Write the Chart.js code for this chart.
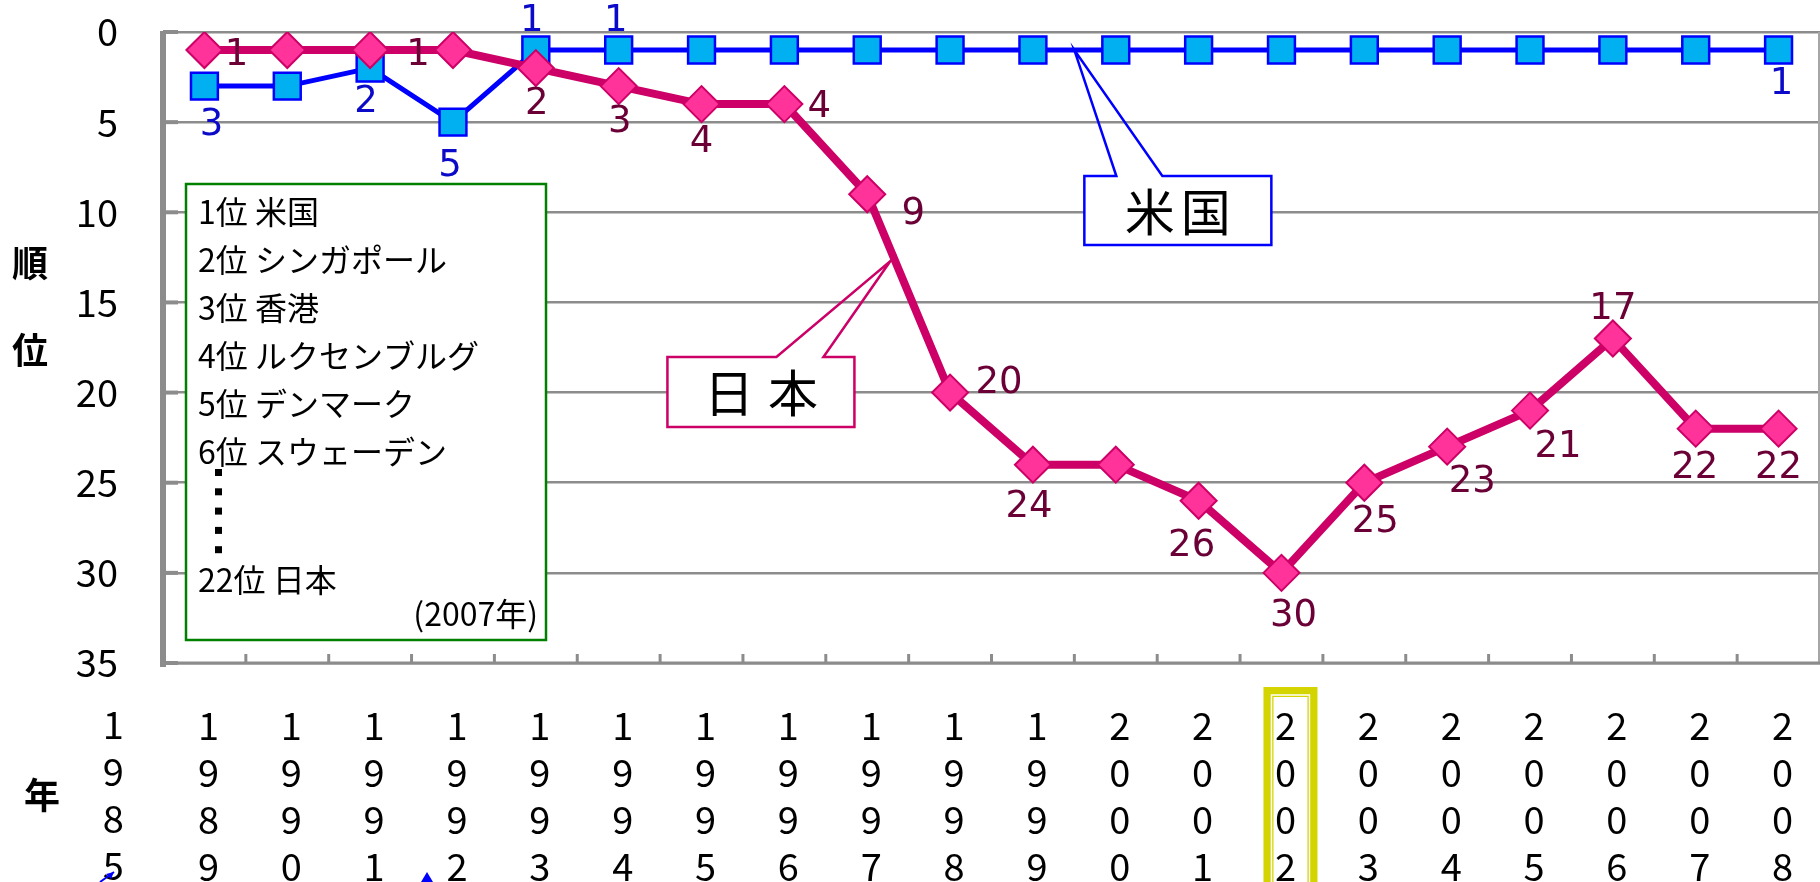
<!DOCTYPE html>
<html><head><meta charset="utf-8">
<script src="https://cdn.jsdelivr.net/npm/chart.js@4.4.0/dist/chart.umd.min.js"></script>
<style>html,body{margin:0;padding:0;background:#fff;overflow:hidden}</style>
</head><body>
<canvas id="c" width="1820" height="882"></canvas>
<script>
// ---- data ----
const years = ['1989','1990','1991','1992','1993','1994','1995','1996','1997','1998','1999','2000','2001','2002','2003','2004','2005','2006','2007','2008'];
const extraYear = '1985';
const japanRank = [1,1,1,1,2,3,4,4,9,20,24,24,26,30,25,23,21,17,22,22];
const usRank    = [3,3,2,5,1,1,1,1,1,1,1,1,1,1,1,1,1,1,1,1];
const legendLines = ['1位 米国','2位 シンガポール','3位 香港','4位 ルクセンブルグ','5位 デンマーク','6位 スウェーデン'];
const legendLast = '22位 日本';
const legendNote = '(2007年)';
const yTitleChars = ['順','位'];
const xTitle = '年';
const highlightYear = '2002';
const calloutUS = '米国';
const calloutJP = '日本';

// ---- styles (label offsets per point, null = no label) ----
const jpLabelOffsets = [[32,5],null,[48,5],null,[1,36],[1,36],[0,38],[35,3],[46,20],[49,-9],[-4,43],null,[-7,46],[12,44],[11,40],[25,36],[28,37],[0,-29],[-1,40],[0,40]];
const usLabelOffsets = [[7,39],null,[-4,34],[-3,44],[-4,-29],[-3,-29],null,null,null,null,null,null,null,null,null,null,null,null,null,[3,34]];

const CJK = '"Noto Sans CJK JP", "Noto Sans", sans-serif';
const GRID = '#8C8C8C';
const LABEL_SHIFT = 4;

const decor = {
  id: 'decor',
  beforeDatasetsDraw(chart) {
    const ctx = chart.ctx, a = chart.chartArea, xs = chart.scales.x, ys = chart.scales.y;
    ctx.save();
    // right border
    ctx.strokeStyle = '#A6A6A6'; ctx.lineWidth = 2;
    ctx.beginPath(); ctx.moveTo(a.right - 1, a.top); ctx.lineTo(a.right - 1, a.bottom); ctx.stroke();
    // bottom axis
    ctx.strokeStyle = GRID; ctx.lineWidth = 3;
    ctx.beginPath(); ctx.moveTo(a.left - 3, a.bottom); ctx.lineTo(a.right, a.bottom); ctx.stroke();
    const cw = xs.getPixelForValue(1) - xs.getPixelForValue(0);
    ctx.lineWidth = 3;
    for (let i = 0; i < years.length - 1; i++) {
      const x = xs.getPixelForValue(i) + cw / 2;
      ctx.beginPath(); ctx.moveTo(x, a.bottom); ctx.lineTo(x, a.bottom - 9); ctx.stroke();
    }
    // left axis
    ctx.lineWidth = 6;
    ctx.beginPath(); ctx.moveTo(a.left, a.top - 1); ctx.lineTo(a.left, a.bottom + 4); ctx.stroke();
    ctx.lineWidth = 4;
    ys.ticks.forEach(t => {
      const y = ys.getPixelForValue(t.value);
      ctx.beginPath(); ctx.moveTo(a.left, y); ctx.lineTo(a.left + 15, y); ctx.stroke();
    });

    // legend box
    const bx = a.left + 23, by = a.top + 152, bw = 360, bh = 456;
    ctx.fillStyle = '#fff'; ctx.fillRect(bx, by, bw, bh);
    ctx.strokeStyle = '#008000'; ctx.lineWidth = 2.5; ctx.strokeRect(bx, by, bw, bh);
    ctx.fillStyle = '#000'; ctx.font = '32px ' + CJK; ctx.textAlign = 'left'; ctx.textBaseline = 'middle';
    legendLines.forEach((s, i) => ctx.fillText(s, bx + 12, by + 28 + i * 48));
    for (let k = 0; k < 5; k++) ctx.fillRect(bx + 29, by + 285 + k * 19.3, 7, 7);
    ctx.fillText(legendLast, bx + 12, by + 396);
    ctx.textAlign = 'right';
    ctx.fillText(legendNote, bx + bw - 8, by + 430);

    // callouts
    function callout(box, base1, base2, tip, color, text, pitch) {
      ctx.fillStyle = '#fff'; ctx.fillRect(box.x, box.y, box.w, box.h);
      ctx.strokeStyle = color; ctx.lineWidth = 2.5;
      ctx.beginPath();
      ctx.moveTo(box.x, box.y);
      ctx.lineTo(base1, box.y); ctx.lineTo(tip.x, tip.y); ctx.lineTo(base2, box.y);
      ctx.lineTo(box.x + box.w, box.y); ctx.lineTo(box.x + box.w, box.y + box.h);
      ctx.lineTo(box.x, box.y + box.h); ctx.closePath(); ctx.stroke();
      ctx.fillStyle = '#000'; ctx.font = '50px ' + CJK; ctx.textAlign = 'center'; ctx.textBaseline = 'middle';
      const cx = box.x + box.w / 2, cy = box.y + box.h / 2;
      const chars = text.split('');
      chars.forEach((c, i) => ctx.fillText(c, cx + (i - (chars.length - 1) / 2) * pitch, cy + 1));
    }
    const tipUS = { x: xs.getPixelForValue(10.5), y: ys.getPixelForValue(1) };
    callout({ x: tipUS.x + 10, y: tipUS.y + 126, w: 187, h: 69 }, tipUS.x + 42, tipUS.x + 88, tipUS, '#0000FF', calloutUS, 56);
    const tipJP = { x: xs.getPixelForValue(8.28), y: ys.getPixelForValue(12.7) };
    callout({ x: tipJP.x - 223, y: tipJP.y + 96, w: 187, h: 70 }, tipJP.x - 114, tipJP.x - 67, tipJP, '#CC0066', calloutJP, 64);
    ctx.restore();
  },
  afterDatasetsDraw(chart) {
    const ctx = chart.ctx;
    ctx.save();
    ctx.font = '37px "DejaVu Sans", sans-serif'; ctx.textAlign = 'center'; ctx.textBaseline = 'middle';
    const draw = (dsIndex, values, offsets, color) => {
      const meta = chart.getDatasetMeta(dsIndex);
      ctx.fillStyle = color;
      meta.data.forEach((pt, i) => {
        const o = offsets[i];
        if (!o) return;
        ctx.fillText(String(values[i]), pt.x + o[0], pt.y + o[1]);
      });
    };
    draw(1, usRank, usLabelOffsets, '#0A0AC8');
    draw(0, japanRank, jpLabelOffsets, '#6B0037');
    ctx.restore();
  },
  afterDraw(chart) {
    const ctx = chart.ctx, a = chart.chartArea, xs = chart.scales.x;
    ctx.save();
    const cw = xs.getPixelForValue(1) - xs.getPixelForValue(0);
    // extra year label on the left
    ctx.fillStyle = '#000'; ctx.font = '38px ' + CJK; ctx.textAlign = 'center'; ctx.textBaseline = 'middle';
    const ex = xs.getPixelForValue(0) - 1.1 * cw;
    extraYear.split('').forEach((c, i) => ctx.fillText(c, ex, a.bottom + 62 + i * 47));
    // axis titles
    ctx.font = 'bold 36px ' + CJK;
    ctx.fillText(yTitleChars[0], 30, 263);
    ctx.fillText(yTitleChars[1], 30, 350);
    ctx.fillText(xTitle, 42, 795);
    // highlight box round the 2002 label
    const hx = xs.getPixelForValue(years.indexOf(highlightYear));
    const L = hx - 18, R = hx + 36, T = a.bottom + 24;
    ctx.strokeStyle = '#D4D400'; ctx.lineWidth = 10;
    ctx.strokeRect(L + 5, T + 5, R - L - 10, 300);
    ctx.strokeStyle = '#fff'; ctx.lineWidth = 1.5;
    ctx.strokeRect(L + 8, T + 8, R - L - 16, 300);
    // blue fragments at the bottom edge
    ctx.fillStyle = '#0000FF'; ctx.strokeStyle = '#0000FF'; ctx.lineWidth = 2;
    ctx.beginPath(); ctx.moveTo(100, 882); ctx.lineTo(114, 872); ctx.stroke();
    ctx.beginPath(); ctx.moveTo(114, 872); ctx.lineTo(106, 874); ctx.lineTo(111, 879); ctx.closePath(); ctx.fill();
    ctx.beginPath(); ctx.moveTo(427, 872); ctx.lineTo(421, 882); ctx.lineTo(433, 882); ctx.closePath(); ctx.fill();
    ctx.restore();
  }
};

new Chart(document.getElementById('c').getContext('2d'), {
  type: 'line',
  data: {
    labels: years.map(y => y.split('')),
    datasets: [
      { label: '日本', data: japanRank, order: 0, borderColor: '#CC0066', borderWidth: 8,
        pointStyle: 'rectRot', pointRadius: 18, pointBackgroundColor: '#FF3399', pointBorderColor: '#CC0066', pointBorderWidth: 2, tension: 0 },
      { label: '米国', data: usRank, order: 1, borderColor: '#0000FF', borderWidth: 5,
        pointStyle: 'rect', pointRadius: 19, pointBackgroundColor: '#00B0F0', pointBorderColor: '#0000FF', pointBorderWidth: 2.5, tension: 0 }
    ]
  },
  options: {
    responsive: false, animation: false, devicePixelRatio: 1,
    layout: { autoPadding: false, padding: { top: 32, left: 0, right: 0, bottom: 0 } },
    plugins: { legend: { display: false }, tooltip: { enabled: false } },
    scales: {
      x: {
        offset: true,
        grid: { display: true, drawOnChartArea: false, drawTicks: true, tickLength: 39, color: 'rgba(0,0,0,0)', tickColor: 'rgba(0,0,0,0)' },
        border: { display: false },
        ticks: { autoSkip: false, maxRotation: 0, padding: 0, labelOffset: LABEL_SHIFT, color: '#000', font: { family: CJK, size: 38, lineHeight: 1.24 } },
        afterFit(s) { s.height = 219; }
      },
      y: {
        reverse: true, min: 0, max: 35,
        grid: { color: GRID, lineWidth: 2.5, drawTicks: true, tickLength: 45, tickColor: 'rgba(0,0,0,0)' },
        border: { display: false },
        ticks: { stepSize: 5, padding: 0, color: '#000', font: { family: CJK, size: 38 } },
        afterFit(s) { s.width = 163; }
      }
    }
  },
  plugins: [decor]
});
</script>
</body></html>
